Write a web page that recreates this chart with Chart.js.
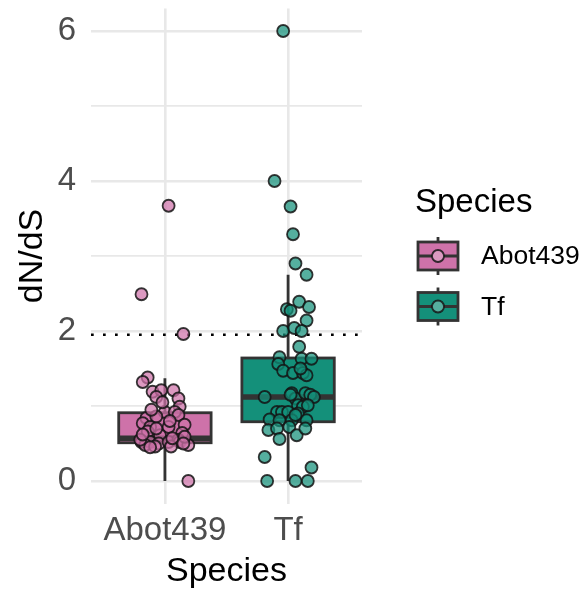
<!DOCTYPE html>
<html>
<head>
<meta charset="utf-8">
<script src="https://cdn.jsdelivr.net/npm/chart.js@4/dist/chart.umd.min.js"></script>
<style>
  html, body { margin: 0; padding: 0; background: #fff; }
  #wrap { width: 586px; height: 594px; }
</style>
</head>
<body>
<div id="wrap"><canvas id="chart" width="586" height="594"></canvas></div>
<script>
// Data
const species = ['Abot439', 'Tf'];
const yTicks = [0, 2, 4, 6];
const cutoff = 1.95;

// box stats per species
const whiskerLow = [0, 0];
const boxQ1 = [0.51, 0.79];
const boxMedian = [0.57, 1.12];
const boxQ3 = [0.91, 1.64];
const whiskerHigh = [1.37, 2.75];

// jittered observations (value, horizontal jitter in category units)
const abotValues = [3.67, 2.49, 1.96, 1.38, 1.32, 1.19, 1.21, 1.21, 1.12, 1.10, 0.99, 0.92, 0.92, 0.84, 0.86, 0.77,
  0.88, 0.72, 0.72, 0.75, 0.66, 0.61, 0.64, 0.52, 0.52, 0.50, 0.52, 0.55, 0.52, 0.48, 0.48, 0.46, 0.46, 0.55,
  0.59, 0.00, 0.80, 0.70, 0.57, 1.05, 0.62, 0.45, 0.50, 0.95];
const abotJitter = [0.03, -0.19, 0.15, -0.14, -0.18, -0.10, -0.03, 0.07, -0.07, 0.11, 0.12, 0.00, 0.08, -0.15, -0.07, -0.18,
  0.11, -0.12, 0.03, 0.16, -0.14, -0.04, 0.14, -0.19, -0.12, -0.05, 0.03, 0.11, 0.12, 0.19, -0.16, -0.08, 0.05, -0.20,
  0.16, 0.19, 0.04, -0.07, 0.06, -0.02, -0.18, -0.12, 0.15, -0.11];

const tfValues = [6.00, 4.00, 3.66, 3.29, 2.90, 2.75, 2.39, 2.32, 2.29, 2.27, 2.14, 2.00, 2.04, 2.00, 1.79, 1.65,
  1.63, 1.63, 1.56, 1.47, 1.44, 1.44, 1.41, 1.12, 1.17, 1.10, 1.17, 1.15, 1.12, 1.01, 0.99, 1.01, 0.92, 0.92, 0.92,
  0.90, 0.82, 0.81, 0.81, 0.81, 0.68, 0.70, 0.72, 0.61, 0.70, 0.56, 0.32, 0.18, 0.00, 0.00, 0.00, 1.15, 0.88, 1.50];
const tfJitter = [-0.04, -0.11, 0.02, 0.04, 0.06, 0.15, 0.09, 0.17, -0.01, 0.02, 0.15, -0.04, 0.05, 0.11, 0.09, -0.07,
  0.11, 0.19, -0.08, -0.04, 0.04, 0.12, 0.15, -0.19, 0.03, 0.06, 0.14, 0.18, 0.21, 0.08, 0.12, 0.16, -0.09, -0.05, 0.00,
  0.08, -0.15, -0.07, 0.03, 0.15, -0.16, -0.09, 0.01, 0.07, 0.14, -0.07, -0.19, 0.19, -0.17, 0.06, 0.16, 0.02, 0.06, 0.10];

const boxColors = ['#CE72A9', '#14907A'];
const pointColors = ['rgba(206, 114, 169, 0.72)', 'rgba(20, 144, 122, 0.72)'];
const edgeColor = '#333333';
const pointEdge = 'rgba(20, 20, 20, 0.85)';
const FONT = '"Liberation Sans", Arial, sans-serif';

function toPoints(values, jitter, pos) {
  return values.map((v, i) => ({ x: pos + jitter[i], y: v }));
}

// boxes, whiskers and the dotted cut-off line, drawn under the points
const boxPlugin = {
  id: 'boxes',
  beforeDatasetsDraw(chart) {
    const { ctx, chartArea } = chart;
    const xs = chart.scales.x;
    const ys = chart.scales.y;
    ctx.save();

    // dotted reference line
    ctx.strokeStyle = '#000';
    ctx.lineWidth = 2.7;
    ctx.setLineDash([2.7, 9.3]);
    ctx.beginPath();
    ctx.moveTo(chartArea.left, ys.getPixelForValue(cutoff));
    ctx.lineTo(chartArea.right, ys.getPixelForValue(cutoff));
    ctx.stroke();
    ctx.setLineDash([]);

    species.forEach((s, i) => {
      const pos = i + 1;
      const cx = xs.getPixelForValue(pos);
      const x0 = xs.getPixelForValue(pos - 0.375);
      const x1 = xs.getPixelForValue(pos + 0.375);
      const yLo = ys.getPixelForValue(whiskerLow[i]);
      const yHi = ys.getPixelForValue(whiskerHigh[i]);
      const yQ1 = ys.getPixelForValue(boxQ1[i]);
      const yQ3 = ys.getPixelForValue(boxQ3[i]);
      const yMed = ys.getPixelForValue(boxMedian[i]);

      ctx.strokeStyle = edgeColor;
      ctx.lineWidth = 2.8;
      ctx.beginPath();
      ctx.moveTo(cx, yHi); ctx.lineTo(cx, yQ3);
      ctx.moveTo(cx, yQ1); ctx.lineTo(cx, yLo);
      ctx.stroke();

      ctx.fillStyle = boxColors[i];
      ctx.fillRect(x0, yQ3, x1 - x0, yQ1 - yQ3);
      ctx.strokeRect(x0, yQ3, x1 - x0, yQ1 - yQ3);

      ctx.lineWidth = 5.5;
      ctx.beginPath();
      ctx.moveTo(x0, yMed); ctx.lineTo(x1, yMed);
      ctx.stroke();
    });
    ctx.restore();
  },
  afterDraw(chart) {
    // legend with boxplot keys
    const { ctx } = chart;
    ctx.save();
    ctx.fillStyle = '#000';
    ctx.textBaseline = 'alphabetic';
    ctx.font = '33px ' + FONT;
    ctx.fillText('Species', 415, 212);

    species.forEach((s, i) => {
      const cy = 256 + i * 50.5;
      const kx = 418, kw = 40;
      ctx.strokeStyle = edgeColor;
      ctx.lineWidth = 2.8;
      ctx.beginPath();
      ctx.moveTo(kx + kw / 2, cy - 19); ctx.lineTo(kx + kw / 2, cy + 19);
      ctx.stroke();
      ctx.fillStyle = boxColors[i];
      ctx.fillRect(kx, cy - 14, kw, 28);
      ctx.strokeRect(kx, cy - 14, kw, 28);
      ctx.beginPath();
      ctx.moveTo(kx, cy); ctx.lineTo(kx + kw, cy);
      ctx.stroke();
      ctx.fillStyle = '#fff';
      ctx.beginPath();
      ctx.arc(kx + kw / 2, cy, 6, 0, Math.PI * 2);
      ctx.fill();
      ctx.fillStyle = pointColors[i];
      ctx.fill();
      ctx.strokeStyle = pointEdge;
      ctx.lineWidth = 1.8;
      ctx.stroke();

      ctx.fillStyle = '#000';
      ctx.font = '26.5px ' + FONT;
      ctx.textBaseline = 'middle';
      ctx.fillText(s, 481, cy + 1);
      ctx.textBaseline = 'alphabetic';
    });
    ctx.restore();
  }
};

new Chart(document.getElementById('chart'), {
  type: 'scatter',
  data: {
    datasets: [
      {
        label: species[0],
        data: toPoints(abotValues, abotJitter, 1),
        backgroundColor: pointColors[0],
        borderColor: pointEdge,
        borderWidth: 1.8,
        pointRadius: 6,
        pointHoverRadius: 6
      },
      {
        label: species[1],
        data: toPoints(tfValues, tfJitter, 2),
        backgroundColor: pointColors[1],
        borderColor: pointEdge,
        borderWidth: 1.8,
        pointRadius: 6,
        pointHoverRadius: 6
      }
    ]
  },
  options: {
    responsive: false,
    animation: false,
    layout: { padding: { left: 0, right: 224, top: 8.5, bottom: 0 } },
    plugins: {
      legend: { display: false },
      tooltip: { enabled: false }
    },
    scales: {
      x: {
        type: 'linear',
        min: 0.4,
        max: 2.6,
        afterBuildTicks: scale => { scale.ticks = species.map((s, i) => ({ value: i + 1 })); },
        afterFit: scale => {
          scale.height = 90.5;
          scale.paddingLeft = 0; scale.paddingRight = 0;
        },
        ticks: {
          callback: v => species[v - 1],
          font: { size: 33, family: FONT },
          color: '#4D4D4D',
          padding: 8,
          maxRotation: 0,
          autoSkip: false
        },
        grid: { color: '#E8E8E8', lineWidth: 2.6, drawTicks: false },
        border: { display: false },
        title: {
          display: true,
          text: 'Species',
          color: '#000',
          font: { size: 34, family: FONT },
          padding: { top: 2, bottom: 2 }
        }
      },
      y: {
        min: -0.3,
        max: 6.3,
        afterBuildTicks: scale => {
          const t = [];
          for (let v = yTicks[0]; v <= yTicks[yTicks.length - 1]; v++) t.push({ value: v });
          scale.ticks = t;
        },
        afterFit: scale => {
          scale.width = 91;
          scale.paddingTop = 0; scale.paddingBottom = 0;
        },
        ticks: {
          callback: v => (yTicks.includes(v) ? String(v) : ''),
          font: { size: 33, family: FONT },
          color: '#4D4D4D',
          padding: 15,
          autoSkip: false
        },
        grid: {
          color: '#E8E8E8',
          lineWidth: c => (yTicks.includes(c.tick.value) ? 2.6 : 1.8),
          drawTicks: false
        },
        border: { display: false },
        title: {
          display: true,
          text: 'dN/dS',
          color: '#000',
          font: { size: 34, family: FONT },
          padding: { top: 12.6, bottom: 0 }
        }
      }
    }
  },
  plugins: [boxPlugin]
});
</script>
</body>
</html>
